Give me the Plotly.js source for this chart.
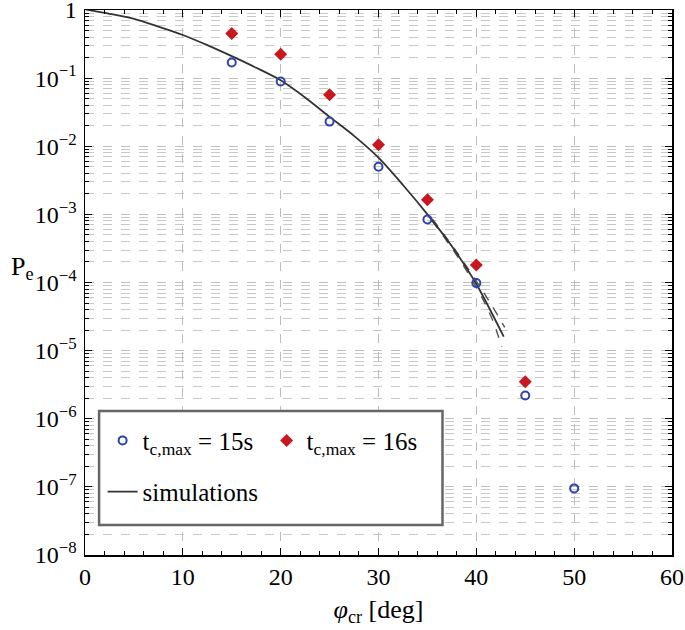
<!DOCTYPE html>
<html>
<head>
<meta charset="utf-8">
<script src="https://cdn.plot.ly/plotly-3.0.1.min.js"></script>
<style>
  html, body { margin: 0; padding: 0; background: #fff; }
  #plot { width: 685px; height: 630px; }
</style>
</head>
<body>
<div id="plot"></div>
<script>
// --- data ---
const phiMeas = [15, 20, 25, 30, 35, 40, 45, 50];
const pe15 = [0.17, 0.089, 0.023, 0.005, 0.00084, 9.8e-5, 2.2e-6, 9.5e-8];

const phiMeas16 = [15, 20, 25, 30, 35, 40, 45];
const pe16 = [0.45, 0.224, 0.057, 0.0105, 0.00164, 1.8e-4, 3.5e-6];

// simulation curve (solid)
const phiSim = [0, 2.5, 5, 7.5, 10, 12.5, 15, 17.5, 20, 22.5, 25, 27.5, 30, 32.5, 35, 37.5, 40, 42.8];
const peSim = [1.02, 0.88, 0.74, 0.57, 0.43, 0.305, 0.21, 0.142, 0.093, 0.052, 0.027, 0.0142,
               0.0068, 0.0027, 0.00100, 3.4e-4, 9.5e-5, 1.6e-5];

// extra simulation runs (dashed)
const phiSimA = [35.5, 38, 40, 41.5, 42.9];
const peSimA = [8.6e-4, 2.8e-4, 1.05e-4, 4.8e-5, 2.2e-5];
const phiSimB = [35.5, 38, 40, 41.5, 42.6];
const peSimB = [8.0e-4, 2.5e-4, 8.5e-5, 3.2e-5, 1.14e-5];

// y tick labels
const yTickVals = [1e-8, 1e-7, 1e-6, 1e-5, 1e-4, 1e-3, 1e-2, 1e-1, 1];
const yExps = ['−8', '−7', '−6', '−5', '−4', '−3', '−2', '−1'];
const yTickText = yExps.map(e => '10<sup>' + e + '</sup>').concat(['1']);

const serif = "'Liberation Serif', 'Times New Roman', serif";

const traces = [
  {
    x: phiSimA, y: peSimA, mode: 'lines', showlegend: false, hoverinfo: 'skip',
    line: { color: '#555', width: 1.4, dash: 'dash', shape: 'spline' }
  },
  {
    x: phiSimB, y: peSimB, mode: 'lines', showlegend: false, hoverinfo: 'skip',
    line: { color: '#555', width: 1.4, dash: 'dash', shape: 'spline' }
  },
  {
    x: phiSim, y: peSim, mode: 'lines', name: 'simulations', legend: 'legend2',
    line: { color: '#333', width: 1.8, shape: 'spline', smoothing: 0.8 }
  },
  {
    x: phiMeas, y: pe15, mode: 'markers', name: 't<sub>c,max</sub> = 15s',
    marker: { symbol: 'circle-open', size: 8, color: '#2f44a8', line: { width: 2, color: '#2f44a8' } }
  },
  {
    x: phiMeas16, y: pe16, mode: 'markers', name: 't<sub>c,max</sub> = 16s',
    marker: { symbol: 'diamond', size: 10, color: '#c8171e' }
  }
];

const layout = {
  width: 685, height: 630,
  margin: { l: 85, r: 13, t: 10, b: 75 },
  paper_bgcolor: '#fff', plot_bgcolor: '#fff',
  font: { family: serif, size: 24, color: '#000' },
  showlegend: true,
  xaxis: {
    range: [0, 60], dtick: 10, tick0: 0,
    ticks: 'inside', ticklen: 7, tickcolor: '#000',
    showline: true, linecolor: '#000', linewidth: 1.5, mirror: 'allticks',
    showgrid: true, gridcolor: '#bdbdbd', griddash: 'dash', gridwidth: 1,
    zeroline: false,
    minor: { dtick: 2, ticks: 'inside', ticklen: 4, tickcolor: '#000', showgrid: false },
    tickfont: { family: serif, size: 24 },
    title: { text: '<i>φ</i><sub>cr</sub> [deg]', font: { family: serif, size: 26 }, standoff: 10 }
  },
  yaxis: {
    type: 'log', range: [-8, 0],
    tickmode: 'array', tickvals: yTickVals, ticktext: yTickText,
    ticklabeloverflow: 'allow', ticklabelstandoff: 2,
    ticks: 'inside', ticklen: 7, tickcolor: '#000',
    showline: true, linecolor: '#000', linewidth: 1.5, mirror: 'allticks',
    showgrid: true, gridcolor: '#bdbdbd', griddash: 'dash', gridwidth: 1,
    zeroline: false,
    minor: { dtick: 'D1', ticks: 'inside', ticklen: 4, tickcolor: '#000',
             showgrid: true, gridcolor: '#c8c8c8', griddash: 'dash', gridwidth: 1 },
    tickfont: { family: serif, size: 24 }
  },
  legend: {
    orientation: 'h', x: 0.03, y: 0.252, xanchor: 'left', yanchor: 'top',
    bgcolor: 'rgba(0,0,0,0)', borderwidth: 0,
    entrywidth: 119, entrywidthmode: 'pixels',
    font: { family: serif, size: 25 }
  },
  legend2: {
    orientation: 'h', x: 0.03, y: 0.158, xanchor: 'left', yanchor: 'top',
    bgcolor: 'rgba(0,0,0,0)', borderwidth: 0,
    font: { family: serif, size: 25 }
  },
  shapes: [
    {
      type: 'rect', xref: 'paper', yref: 'paper',
      x0: 0.024, x1: 0.609, y0: 0.055, y1: 0.264,
      line: { color: '#666', width: 2.5 }, fillcolor: '#fff', layer: 'above'
    }
  ],
  annotations: [
    {
      xref: 'paper', yref: 'paper', x: -0.13, y: 0.526, xanchor: 'left',
      text: 'P<sub>e</sub>', showarrow: false,
      font: { family: serif, size: 26 }
    }
  ]
};

Plotly.newPlot('plot', traces, layout, { displayModeBar: false, staticPlot: true });
</script>
</body>
</html>
